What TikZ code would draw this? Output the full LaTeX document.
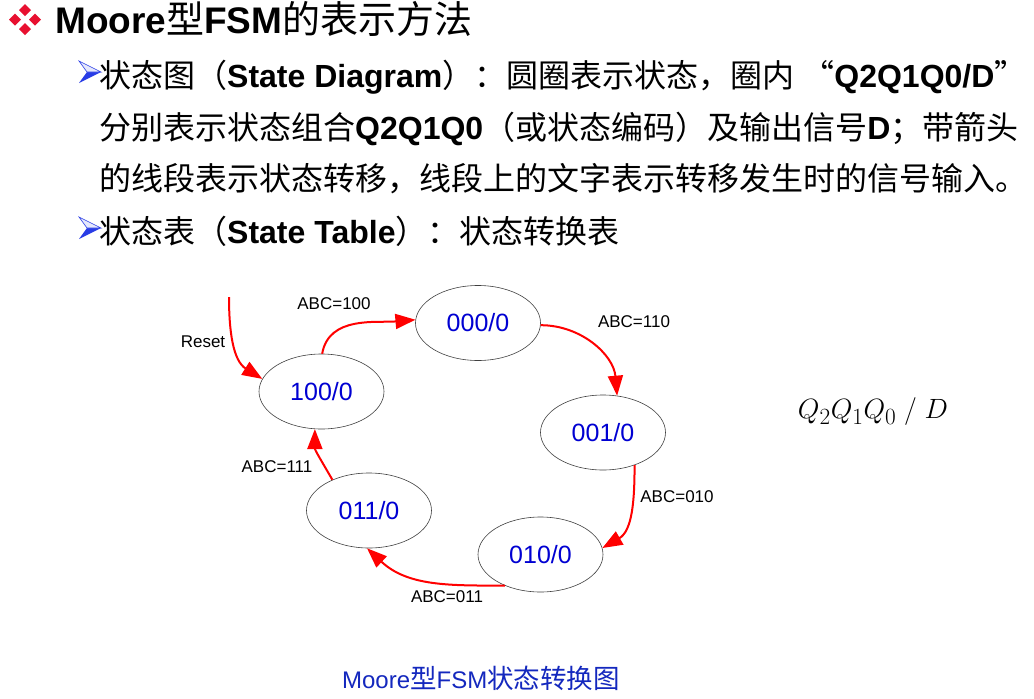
\documentclass[tikz,border=0pt]{standalone}
\usepackage{fontspec}
\setmainfont{Liberation Sans}
\newfontfamily\cjk{Noto Sans CJK SC}
\usetikzlibrary{shapes.geometric,arrows.meta,positioning}
\definecolor{StateBlue}{RGB}{0,0,210}
\definecolor{CaptionBlue}{RGB}{20,40,190}
\definecolor{BulletRed}{RGB}{232,16,48}
\definecolor{ArrowBlue}{RGB}{40,60,230}
\newcommand{\zh}[1]{{\cjk #1}}
\newcommand{\zhcap}[1]{{\cjk\fontsize{26.5}{26.5}\selectfont #1}}
\tikzset{
  state/.style={ellipse, draw=black!75, line width=0.6pt, fill=white,
    minimum width=125pt, minimum height=75pt, inner sep=0pt,
    text=StateBlue, font=\fontsize{25}{25}\selectfont},
  trans/.style={draw=red, line width=2pt, -{Triangle[length=20pt,width=15pt]}},
  cond/.style={font=\fontsize{17}{17}\selectfont},
  textline/.style={anchor=base west, inner sep=0pt, font=\fontsize{32}{32}\selectfont},
}

\begin{document}
\begin{tikzpicture}[x=1pt,y=1pt]
  \useasboundingbox (0,0) rectangle (1034,-699);
  \fill[white] (0,0) rectangle (1034,-699);

  % Title with red diamond bullet
  \foreach \cx/\cy in {25/10, 15/19.5, 35/19.5, 25/29} {
    \fill[BulletRed] (\cx,-\cy+6) -- (\cx+6,-\cy) -- (\cx,-\cy-6) -- (\cx-6,-\cy) -- cycle;
  }
  \node[anchor=base west, inner sep=0pt] (title) at (55,-33)
    {\fontsize{37}{37}\selectfont\bfseries Moore{\cjk\mdseries\fontsize{38}{38}\selectfont 型}FSM{\cjk\mdseries\fontsize{38}{38}\selectfont 的表示方法}};

  % Blue arrow bullets
  \foreach \y in {72, 228} {
    \fill[ArrowBlue] (79,-\y-11) -- (101,-\y) -- (87,-\y) -- cycle;
    \filldraw[draw=ArrowBlue, fill=ArrowBlue!12, line width=0.6pt] (79,-\y+11) -- (101,-\y) -- (87,-\y) -- cycle;
  }

  % Text lines
  \node[textline] (line1) at (99,-87) {\zh{状态图（}\textbf{State Diagram}\zh{）：圆圈表示状态，圈内}\hspace{8pt}\zh{“}\textbf{Q2Q1Q0/D}\zh{”}};
  \node[textline] (line2) at (99,-139) {\zh{分别表示状态组合}\textbf{Q2Q1Q0}\zh{（或状态编码）及输出信号}\textbf{D}\zh{；带箭头}};
  \node[textline] (line3) at (99,-190) {\zh{的线段表示状态转移，线段上的文字表示转移发生时的信号输入。}};
  \node[textline] (line4) at (99,-243) {\zh{状态表（}\textbf{State Table}\zh{）：状态转换表}};

  % States
  \node[state] (s000) at (478,-323) {000/0};
  \node[state] (s100) at (321.5,-391.5) {100/0};
  \node[state] (s001) at (603,-432.5) {001/0};
  \node[state] (s010) at (540.5,-554.5) {010/0};
  \node[state] (s011) at (369,-510.5) {011/0};

  % Transitions
  \coordinate (rst) at (229,-297);
  \draw[trans] (rst) to[out=-90, in=148] (s100.168);
  \draw[trans] (s100.89) to[out=80, in=185] (s000.177);
  \draw[trans] (s000.358) to[out=0, in=95] (s001.69);
  \draw[trans] (s001.-46) to[out=-90, in=30] (s010.6);
  \draw[trans] (s010.221) to[out=180, in=-43] (s011.267);
  \draw[trans] (s011.140) to[out=120, in=-90] (s100.260);

  % Transition labels
  \node[cond] (lreset) at (203,-342) {Reset};
  \node[cond] (l100) at (334,-304) {ABC=100};
  \node[cond] (l110) at (634,-322) {ABC=110};
  \node[cond] (l010) at (677,-497) {ABC=010};
  \node[cond] (l011) at (447,-597) {ABC=011};
  \node[cond] (l111) at (277,-467) {ABC=111};

  % Legend and caption
  \node[font=\fontsize{24.88}{25}\selectfont, scale=1.12] (legend) at (873,-412) {$Q_2Q_1Q_0\ /\ D$};
  \node[anchor=base, text=CaptionBlue, inner sep=0pt] (caption) at (481,-688)
    {\fontsize{24}{24}\selectfont Moore\zhcap{型}FSM\zhcap{状态转换图}};
\end{tikzpicture}
\end{document}
